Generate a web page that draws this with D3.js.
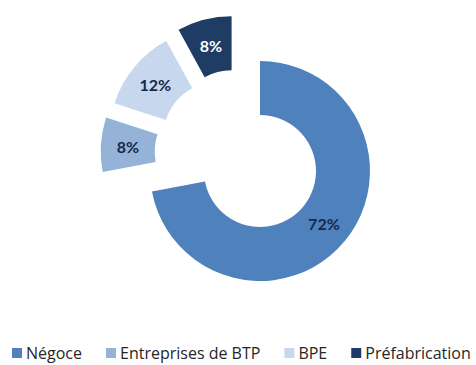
<!DOCTYPE html>
<html>
<head>
<meta charset="utf-8">
<script src="https://cdn.jsdelivr.net/npm/d3@7"></script>
<style>
  html, body { margin: 0; padding: 0; background: #ffffff; }
  svg { display: block; }
</style>
</head>
<body>
<svg id="chart" width="476" height="365"></svg>
<script>
// Répartition par débouché
const categories = ["Négoce", "Entreprises de BTP", "BPE", "Préfabrication"];
const shares = [72, 8, 12, 8];
const labels = ["72%", "8%", "12%", "8%"];
const exploded = [false, true, true, true];
const colors = ["#4f81bd", "#95b3d7", "#c6d7ee", "#1f3c64"];
const labelColors = ["#142a4c", "#142a4c", "#142a4c", "#ffffff"];

const svg = d3.select("#chart");

const cx = 260, cy = 171;
const outerR = 110, innerR = 56;
const explodeDist = 53;

const pie = d3.pie().sort(null).value(d => d.value);
const arcs = pie(categories.map((c, i) => ({ name: c, value: shares[i], i })));

const arc = d3.arc().innerRadius(innerR).outerRadius(outerR);

// Exploded slices are pushed out as a group: each direction is pulled halfway
// between the slice's own bisector and the bisector of the detached group.
const grp = arcs.filter((a, i) => exploded[i]);
const grpMid = grp.length ? (grp[0].startAngle + grp[grp.length - 1].endAngle) / 2 : 0;

function offset(a, i) {
  if (!exploded[i]) return [0, 0];
  const mid = (a.startAngle + a.endAngle) / 2;
  const ang = grpMid + 0.5 * (mid - grpMid);
  return [explodeDist * Math.sin(ang), -explodeDist * Math.cos(ang)];
}

const g = svg.append("g").attr("transform", `translate(${cx},${cy})`);

const slice = g.selectAll("g.slice")
  .data(arcs)
  .join("g")
  .attr("class", "slice")
  .attr("transform", (a, i) => { const o = offset(a, i); return `translate(${o[0]},${o[1]})`; });

slice.append("path")
  .attr("d", arc)
  .attr("fill", (a, i) => colors[i]);

const labelArc = d3.arc().innerRadius((innerR + outerR) / 2).outerRadius((innerR + outerR) / 2);
slice.append("text")
  .attr("transform", a => `translate(${labelArc.centroid(a)})`)
  .attr("text-anchor", "middle")
  .attr("dominant-baseline", "central")
  .attr("font-family", "Lato, 'Open Sans', sans-serif")
  .attr("font-weight", "bold")
  .attr("font-size", 16)
  .attr("fill", (a, i) => labelColors[i])
  .text((a, i) => labels[i]);

// Legend along the bottom
const legend = svg.append("g").attr("transform", "translate(12,353)");
let lx = 0;
categories.forEach((c, i) => {
  const item = legend.append("g").attr("transform", `translate(${lx},0)`);
  item.append("rect")
    .attr("x", 0).attr("y", -5)
    .attr("width", 10).attr("height", 10)
    .attr("fill", colors[i]);
  const t = item.append("text")
    .attr("x", 14)
    .attr("y", 0)
    .attr("dominant-baseline", "central")
    .attr("font-family", "'Open Sans', sans-serif")
    .attr("font-size", 16)
    .attr("fill", "#262626")
    .text(c);
  lx += 14 + t.node().getComputedTextLength() + 24;
});
</script>
</body>
</html>
